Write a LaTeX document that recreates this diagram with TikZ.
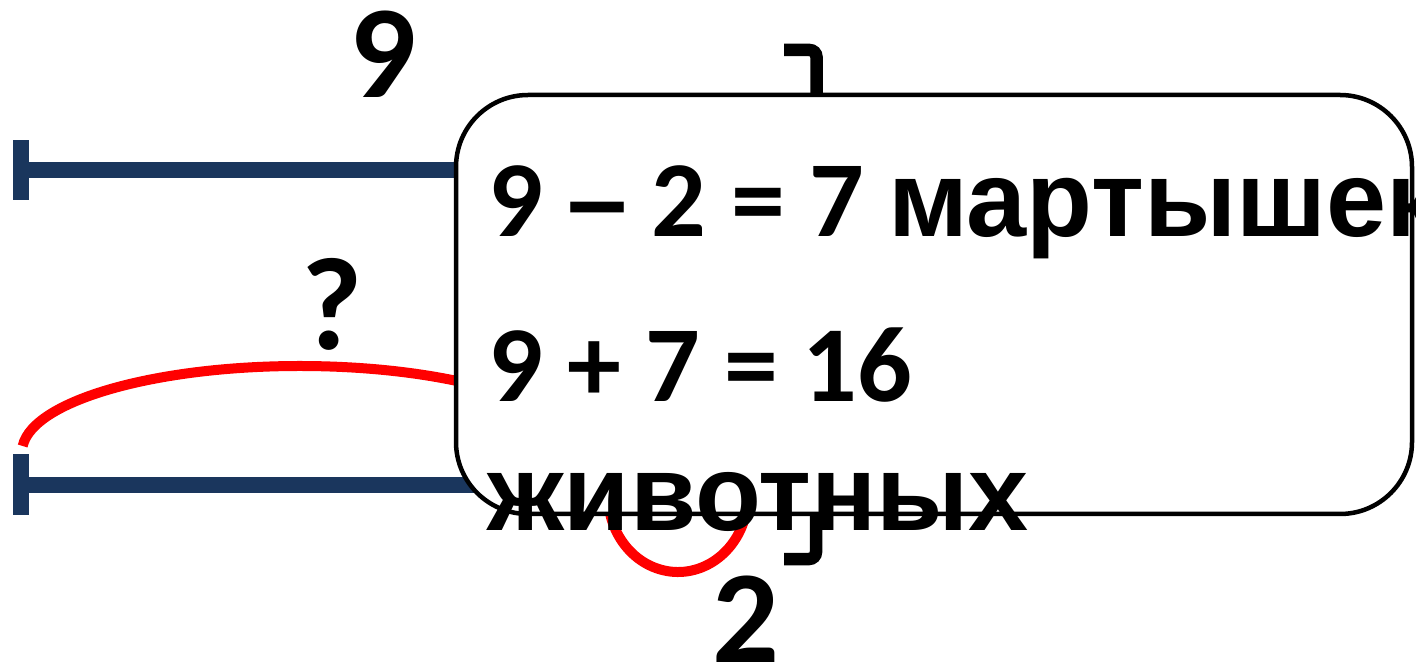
\documentclass[tikz,border=0pt]{standalone}
\usepackage{fontspec}
\newfontfamily\calfont{Carlito}
\newfontfamily\arfont{Liberation Sans}
\definecolor{navy}{RGB}{26,54,93}
\definecolor{redline}{RGB}{255,0,0}
\begin{document}
\begin{tikzpicture}[x=1pt,y=1pt,
  bar/.style={fill=navy,draw=none},
  redarc/.style={draw=redline,line width=10pt},
  brk/.style={draw=black,line width=12.5pt,rounded corners=7pt},
  answerbox/.style={draw=black,fill=white,line width=4.5pt,rounded corners=72pt},
  big/.style={inner sep=0pt,anchor=base west,font=\calfont\bfseries\fontsize{132}{150}\selectfont},
  boxtext/.style={inner sep=0pt,anchor=base west,font=\fontsize{108}{120}\selectfont}
]
\useasboundingbox (0,0) rectangle (1416,667);
% blue segments
\fill[bar] (13,467) rectangle (29,527);
\fill[bar] (29,489) rectangle (480,505);
\fill[bar] (13,152) rectangle (29,213);
\fill[bar] (29,174) rectangle (490,190);
% red arcs
\coordinate (ec) at (300,215);
\draw[redarc] (ec) ++(176:278 and 86) arc[start angle=176,end angle=5,x radius=278,y radius=86];
\coordinate (lc) at (678,172);
\draw[redarc] (lc) ++(165:70 and 77) arc[start angle=165,end angle=375,x radius=70,y radius=77];
% brackets
\coordinate (b1) at (784,617);
\coordinate (b2) at (816.5,617);
\coordinate (b3) at (816.5,571);
\draw[brk] (b1) -- (b2) -- (b3);
\coordinate (c1) at (816,154);
\coordinate (c2) at (816,108);
\coordinate (c3) at (784,108);
\draw[brk] (c1) -- (c2) -- (c3);
% box
\draw[answerbox] (456,153) rectangle (1412,572);
% labels
\node[big] (nine) at (349,569) {9};
\node[big] (q) at (301,317) {?};
\node[big] (two) at (712,5) {2};
% box text
\node[boxtext] (l1) at (488,430) {{\calfont\bfseries 9 }{\arfont\bfseries –}{\calfont\bfseries{} 2 = 7 }{\arfont\bfseries мартышек}};
\node[boxtext] (l2) at (488,265) {\calfont\bfseries 9 + 7 = 16};
\node[boxtext] (l3) at (487,137) {\arfont\bfseries животных};
\end{tikzpicture}
\end{document}
